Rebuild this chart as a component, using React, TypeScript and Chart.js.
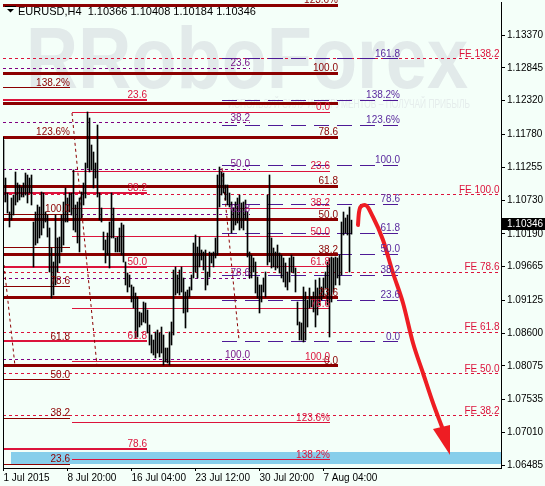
import React, { useEffect, useRef } from 'react';
import { Chart, registerables } from 'chart.js';

Chart.register(...registerables);

const FONT = '"Liberation Sans", Arial, sans-serif';
const FS = 10;
const BG = '#f4fff9';

// ---------- data ----------
const titleText = 'EURUSD,H4  1.10366 1.10408 1.10184 1.10346';
const lastPrice = 1.10346;

const barHigh = [
  1.1169, 1.11082, 1.10842, 1.10538, 1.10762, 1.1081, 1.11178, 1.11002, 1.1097, 1.10938,
  1.11002, 1.11162, 1.1113, 1.11082, 1.1113, 1.10378, 1.10538, 1.1065, 1.10618, 1.10858,
  1.10842, 1.10538, 1.1049, 1.10282, 1.09962, 1.09738, 1.1049, 1.10122, 1.10138, 1.1049,
  1.10698, 1.10922, 1.10762, 1.10842, 1.10842, 1.1121, 1.1065, 1.10698, 1.10762, 1.10858,
  1.11002, 1.11322, 1.12138, 1.12042, 1.1161, 1.11498, 1.11322, 1.1193, 1.10842, 1.10602,
  1.10218, 1.1009, 1.10202, 1.10378, 1.10842, 1.10602, 1.10122, 1.10138, 1.10282, 1.10362,
  1.1033, 1.09738, 1.09562, 1.0953, 1.0937, 1.09338, 1.09242, 1.09178, 1.08938, 1.08922,
  1.09098, 1.09082, 1.0897, 1.0873, 1.0857, 1.0849, 1.08618, 1.0865, 1.08602, 1.08698,
  1.0857, 1.08362, 1.08362, 1.08618, 1.08778, 1.0961, 1.09658, 1.0953, 1.0961, 1.09658,
  1.09482, 1.09258, 1.0929, 1.09338, 1.0953, 1.10042, 1.1017, 1.09978, 1.10138, 1.0993,
  1.09898, 1.0993, 1.09578, 1.09898, 1.09882, 1.09898, 1.10122, 1.1113, 1.11258, 1.11178,
  1.11162, 1.1097, 1.1097, 1.10842, 1.10698, 1.10602, 1.10698, 1.10762, 1.1081, 1.10682,
  1.10698, 1.1073, 1.10538, 1.09898, 1.0985, 1.09802, 1.09738, 1.09498, 1.0937, 1.0937,
  1.09482, 1.09578, 1.1081, 1.1113, 1.10122, 1.09962, 1.09898, 1.1001, 1.09882, 1.0985,
  1.09802, 1.09722, 1.09578, 1.09802, 1.0985, 1.09818, 1.09642, 1.09098, 1.08778, 1.08762,
  1.09338, 1.09258, 1.0913, 1.09322, 1.09178, 1.09258, 1.0945, 1.09322, 1.09482, 1.09338,
  1.09482, 1.09578, 1.09738, 1.09802, 1.09818, 1.09802, 1.09818, 1.09802, 1.0985, 1.10378,
  1.10538, 1.10442, 1.1049, 1.10618, 1.10408,
];
const barLow = [
  1.10698, 1.10698, 1.10522, 1.10298, 1.1041, 1.1049, 1.1065, 1.10698, 1.1073, 1.10778,
  1.10778, 1.1081, 1.10682, 1.10842, 1.1065, 1.09658, 1.1001, 1.10042, 1.10122, 1.1017,
  1.10282, 1.10378, 1.10138, 1.09578, 1.09162, 1.0921, 1.0937, 1.09578, 1.09722, 1.09898,
  1.1001, 1.10378, 1.10378, 1.10538, 1.1049, 1.1025, 1.10218, 1.10042, 1.09898, 1.10442,
  1.1065, 1.10762, 1.11242, 1.11178, 1.1121, 1.10922, 1.11082, 1.10778, 1.1041, 1.10378,
  1.0993, 1.09722, 1.0985, 1.09642, 1.10122, 1.10122, 1.09898, 1.09898, 1.09898, 1.0985,
  1.09738, 1.0937, 1.09258, 1.09338, 1.09098, 1.09002, 1.08522, 1.08538, 1.08698, 1.0873,
  1.08778, 1.08762, 1.08602, 1.0841, 1.08282, 1.0825, 1.08202, 1.08282, 1.08218, 1.08282,
  1.0809, 1.08138, 1.08122, 1.0809, 1.0841, 1.0857, 1.0921, 1.09242, 1.0921, 1.09258,
  1.08922, 1.08682, 1.08938, 1.09178, 1.0929, 1.09482, 1.09578, 1.09482, 1.09658, 1.0977,
  1.0961, 1.0929, 1.0937, 1.09498, 1.09722, 1.09658, 1.09802, 1.0985, 1.10618, 1.1081,
  1.10842, 1.1073, 1.1065, 1.10618, 1.10202, 1.1025, 1.1033, 1.10362, 1.1025, 1.10282,
  1.1025, 1.1041, 1.09818, 1.09482, 1.09482, 1.09578, 1.09242, 1.09162, 1.08922, 1.09098,
  1.09258, 1.09178, 1.0969, 1.09738, 1.09642, 1.09658, 1.0961, 1.09642, 1.09562, 1.09482,
  1.09418, 1.09338, 1.0929, 1.09418, 1.09578, 1.09562, 1.09258, 1.0873, 1.0849, 1.0849,
  1.08458, 1.0849, 1.08698, 1.09002, 1.09018, 1.08938, 1.08698, 1.0889, 1.0905, 1.0913,
  1.09178, 1.09322, 1.0905, 1.08538, 1.09098, 1.09258, 1.0937, 1.09482, 1.0937, 1.0953,
  1.1017, 1.10202, 1.1017, 1.09578, 1.10184,
];

const xTickIndex = [0, 32, 64, 96, 128, 160];
const xTickLabels = ['1 Jul 2015', '8 Jul 20:00', '16 Jul 04:00', '23 Jul 12:00', '30 Jul 20:00', '7 Aug 04:00'];
const yTickValues = [1.1337, 1.12845, 1.1232, 1.1178, 1.11255, 1.1073, 1.1019, 1.09665, 1.09125, 1.086, 1.08075, 1.07535, 1.0701, 1.06485];

// Fibonacci retracement / expansion levels
const maroonFibPrices = [1.1385, 1.12762, 1.12282, 1.11738, 1.10954, 1.1041, 1.0985, 1.09162, 1.08074];
const maroonFibLabels = ['123.6%', '100.0', '', '78.6', '61.8', '50.0', '38.2', '23.6', '0.0'];

const leftFibPrices = [1.12522, 1.11738, 1.10506, 1.09962, 1.09354, 1.08458, 1.0785, 1.07242, 1.06506];
const leftFibLabels = ['138.2%', '123.6%', '100.0', '', '78.6', '61.8', '50.0', '38.2', '23.6'];

const crimsonBoldPrices = [1.1233, 1.10842, 1.09658, 1.08474, 1.0675];
const crimsonBoldLabels = ['23.6', '38.2', '50.0', '61.8', '78.6'];

const crimsonFibPrices = [1.12138, 1.11194, 1.10602, 1.10138, 1.09658, 1.08986, 1.08138, 1.07162, 1.0657];
const crimsonFibLabels = ['0.0', '23.6', '38.2', '50.0', '61.8', '78.6', '100.0', '123.6%', '138.2%'];

const purpleFibPrices = [1.12842, 1.11962, 1.11226, 1.10506, 1.09482, 1.0817];
const purpleFibLabels = ['23.6', '38.2', '50.0', '61.8', '78.6', '100.0'];

const expansionPrices = [1.12986, 1.1233, 1.1193, 1.1129, 1.10666, 1.10202, 1.09866, 1.0953, 1.0913, 1.08458];
const expansionLabels = ['161.8', '138.2%', '123.6%', '100.0', '78.6', '61.8', '50.0', '38.2', '23.6', '0.0'];

const fePrices = [1.12986, 1.1081, 1.09578, 1.08618, 1.0795, 1.07274];
const feLabels = ['FE 138.2', 'FE 100.0', 'FE 78.6', 'FE 61.8', 'FE 50.0', 'FE 38.2'];

const trendStartIdx = [34.25, 0.25, 109.25];
const trendStartPrice = [1.12122, 1.0969, 1.11242];
const trendEndIdx = [46.75, 5.75, 117.75];
const trendEndPrice = [1.08074, 1.08074, 1.0849];

const targetZonePrices = [1.0651, 1.06698];
const targetZoneStartIdx = 3.75;

const arrowPathIdx = [177.25, 177.6, 178.5, 180.75, 184.75, 189.75, 194.75, 199.75, 204.75, 209.75, 214.75, 219.25];
const arrowPathPrice = [1.1033, 1.1049, 1.10618, 1.1065, 1.10458, 1.1009, 1.09562, 1.09082, 1.08442, 1.07962, 1.07482, 1.07098];
const arrowHeadIdx = [223.25, 214.75, 223.25];
const arrowHeadPrice = [1.0665, 1.07066, 1.0713];

// ---------- styles for the level groups ----------
const levelGroups = [
  { prices: fePrices, labels: feLabels, from: -0.25, to: 248.5, color: '#dc143c', width: 1, dash: [3, 3], labelColor: '#dc143c' },
  { prices: purpleFibPrices, labels: purpleFibLabels, from: -0.25, to: 123.25, color: '#800080', width: 1, dash: [3, 3], labelColor: '#7a1a8a' },
  { prices: expansionPrices, labels: expansionLabels, from: 109.25, to: 198.25, color: '#4e1a96', width: 1, dash: [15, 8], labelColor: '#5a2a9e' },
  { prices: maroonFibPrices, labels: maroonFibLabels, from: -0.25, to: 167.25, color: '#8b0000', width: 3, dash: [], labelColor: '#8b0000' },
  { prices: leftFibPrices, labels: leftFibLabels, from: -0.25, to: 33.25, color: '#8b0000', width: 1, dash: [], labelColor: '#8b0000' },
  { prices: crimsonBoldPrices, labels: crimsonBoldLabels, from: -0.25, to: 71.75, color: '#dc143c', width: 2, dash: [], labelColor: '#dc143c' },
  { prices: crimsonFibPrices, labels: crimsonFibLabels, from: 34.25, to: 163.25, color: '#dc143c', width: 1, dash: [], labelColor: '#dc143c' },
];

const crisp = (v: number, w: number) => (w % 2 === 1 ? Math.floor(v) + 0.5 : Math.round(v));

const overlayPlugin = {
  id: 'overlay',
  beforeDraw(chart: any) {
    const ctx = chart.ctx;
    ctx.save();
    ctx.fillStyle = BG;
    ctx.fillRect(0, 0, chart.width, chart.height);
    ctx.restore();
  },
  beforeDatasetsDraw(chart: any) {
    const { ctx, chartArea: a, scales } = chart;
    const xs = scales.x, ys = scales.y;
    ctx.save();
    ctx.beginPath();
    ctx.rect(a.left, a.top, a.right - a.left, a.bottom - a.top);
    ctx.clip();
    // watermark
    ctx.fillStyle = '#e2eaea';
    ctx.textBaseline = 'alphabetic';
    ctx.textAlign = 'left';
    ctx.font = `bold 88px ${FONT}`;
    ctx.fillText('R', 26, 88, 52);
    ctx.fillText('RoboForex', 78, 88, 390);
    ctx.font = `12px ${FONT}`;
    ctx.fillStyle = '#e5edec';
    ctx.fillText('ИСПОЛЬЗУЙ СИЛУ ИНСТРУМЕНТОВ – ПОЛУЧАЙ ПРИБЫЛЬ', 228, 108, 242);
    // target zone
    const zx = xs.getPixelForValue(targetZoneStartIdx);
    const zy1 = ys.getPixelForValue(targetZonePrices[1]);
    const zy0 = ys.getPixelForValue(targetZonePrices[0]);
    ctx.fillStyle = '#87ceeb';
    ctx.fillRect(Math.round(zx), Math.round(zy1), a.right - Math.round(zx), Math.round(zy0) - Math.round(zy1));
    // levels
    for (const g of levelGroups) {
      ctx.strokeStyle = g.color;
      ctx.lineWidth = g.width;
      ctx.setLineDash(g.dash);
      const x0 = Math.round(xs.getPixelForValue(g.from));
      const x1 = Math.round(xs.getPixelForValue(g.to));
      g.prices.forEach((p) => {
        const y = crisp(ys.getPixelForValue(p), g.width);
        ctx.beginPath();
        ctx.moveTo(x0, y);
        ctx.lineTo(x1, y);
        ctx.stroke();
      });
    }
    // dotted trend lines
    ctx.setLineDash([3, 3]);
    ctx.strokeStyle = '#8b0000';
    ctx.lineWidth = 1;
    trendStartIdx.forEach((s, i) => {
      ctx.beginPath();
      ctx.moveTo(xs.getPixelForValue(s), ys.getPixelForValue(trendStartPrice[i]));
      ctx.lineTo(xs.getPixelForValue(trendEndIdx[i]), ys.getPixelForValue(trendEndPrice[i]));
      ctx.stroke();
    });
    ctx.setLineDash([]);
    ctx.restore();
  },
  afterDatasetsDraw(chart: any) {
    const { ctx, chartArea: a, scales } = chart;
    const xs = scales.x, ys = scales.y;
    ctx.save();
    ctx.beginPath();
    ctx.rect(a.left, 0, a.right - a.left, a.bottom);
    ctx.clip();
    // labels
    ctx.font = `${FS}px ${FONT}`;
    ctx.textAlign = 'right';
    ctx.textBaseline = 'alphabetic';
    for (const g of levelGroups) {
      ctx.fillStyle = g.labelColor;
      const x1 = xs.getPixelForValue(g.to);
      g.prices.forEach((p, i) => {
        const lab = g.labels[i];
        if (!lab) return;
        const y = ys.getPixelForValue(p);
        ctx.fillText(lab, x1 - (g.to > 240 ? 1 : 0), y - 2);
      });
    }
    // arrow head
    ctx.fillStyle = '#ee1d23';
    ctx.beginPath();
    arrowHeadIdx.forEach((v, i) => {
      const px = xs.getPixelForValue(v);
      const py = ys.getPixelForValue(arrowHeadPrice[i]);
      if (i === 0) ctx.moveTo(px, py);
      else ctx.lineTo(px, py);
    });
    ctx.closePath();
    ctx.fill();
    ctx.restore();

    // left frame line
    ctx.save();
    ctx.strokeStyle = '#000';
    ctx.lineWidth = 1;
    ctx.beginPath();
    ctx.moveTo(a.left + 0.5, Math.round(ys.getPixelForValue(1.11738)));
    ctx.lineTo(a.left + 0.5, a.bottom);
    ctx.stroke();

    // title
    ctx.fillStyle = '#000';
    ctx.beginPath();
    ctx.moveTo(7, 9);
    ctx.lineTo(14, 9);
    ctx.lineTo(10.5, 12.5);
    ctx.closePath();
    ctx.fill();
    ctx.fillRect(5, 6, 11, 1);
    ctx.font = `11px ${FONT}`;
    ctx.textAlign = 'left';
    ctx.textBaseline = 'alphabetic';
    ctx.fillText(titleText, 18, 15);

    // last price box
    const ly = ys.getPixelForValue(lastPrice);
    ctx.fillStyle = '#000';
    ctx.fillRect(a.right, Math.round(ly) - 6, chart.width - a.right, 12);
    ctx.fillStyle = '#fff';
    ctx.font = `${FS}px ${FONT}`;
    ctx.textBaseline = 'middle';
    ctx.fillText(lastPrice.toFixed(5), a.right + 6, Math.round(ly) + 0.5);
    ctx.restore();
  },
};

export default function App() {
  const ref = useRef<HTMLCanvasElement | null>(null);
  useEffect(() => {
    document.body.style.margin = '0';
    const canvas = ref.current!;
    const chart = new Chart(canvas, {
      type: 'bar',
      data: {
        datasets: [
          {
            type: 'line',
            data: arrowPathIdx.map((x, i) => ({ x, y: arrowPathPrice[i] })),
            borderColor: '#ee1d23',
            borderWidth: 4,
            pointRadius: 0,
            cubicInterpolationMode: 'monotone',
            borderCapStyle: 'round',
            fill: false,
            order: 0,
          } as any,
          {
            type: 'bar',
            data: barHigh.map((h, i) => ({ x: i, y: [barLow[i], h] })),
            backgroundColor: '#000',
            borderWidth: 0,
            barThickness: 1,
            grouped: false,
            order: 1,
          } as any,
        ],
      },
      options: {
        animation: false,
        responsive: false,
        devicePixelRatio: 1,
        events: [],
        layout: { padding: { left: 3, top: 2, right: 0, bottom: 0 } },
        plugins: { legend: { display: false }, tooltip: { enabled: false } },
        scales: {
          x: {
            type: 'linear',
            position: 'bottom',
            offset: false,
            min: -0.25,
            max: 248.75,
            afterBuildTicks: (s: any) => {
              s.ticks = xTickIndex.map((v) => ({ value: v }));
            },
            afterFit: (s: any) => {
              s.height = 18;
              s.paddingLeft = 0;
              s.paddingRight = 0;
            },
            ticks: {
              autoSkip: false,
              maxRotation: 0,
              align: 'start',
              padding: 1,
              color: '#000',
              font: { family: FONT, size: FS },
              callback: (v: any) => {
                const k = xTickIndex.indexOf(Number(v));
                return k >= 0 ? xTickLabels[k] : '';
              },
            },
            grid: { drawOnChartArea: false, drawTicks: true, tickLength: 3, color: '#000', offset: false },
            border: { display: true, color: '#000' },
          },
          y: {
            type: 'linear',
            position: 'right',
            min: 1.06442,
            max: 1.13898,
            afterBuildTicks: (s: any) => {
              s.ticks = yTickValues.map((v) => ({ value: v }));
            },
            afterFit: (s: any) => {
              s.width = 44;
              s.paddingTop = 0;
              s.paddingBottom = 0;
            },
            ticks: {
              padding: 2,
              color: '#000',
              font: { family: FONT, size: FS },
              callback: (v: any) => Number(v).toFixed(5),
            },
            grid: { drawOnChartArea: false, drawTicks: true, tickLength: 4, color: '#000' },
            border: { display: true, color: '#000' },
          },
        },
      } as any,
      plugins: [overlayPlugin],
    });
    return () => chart.destroy();
  }, []);
  return (
    <div style={{ width: 545, height: 486 }}>
      <canvas ref={ref} width={545} height={486} style={{ display: 'block' }} />
    </div>
  );
}
